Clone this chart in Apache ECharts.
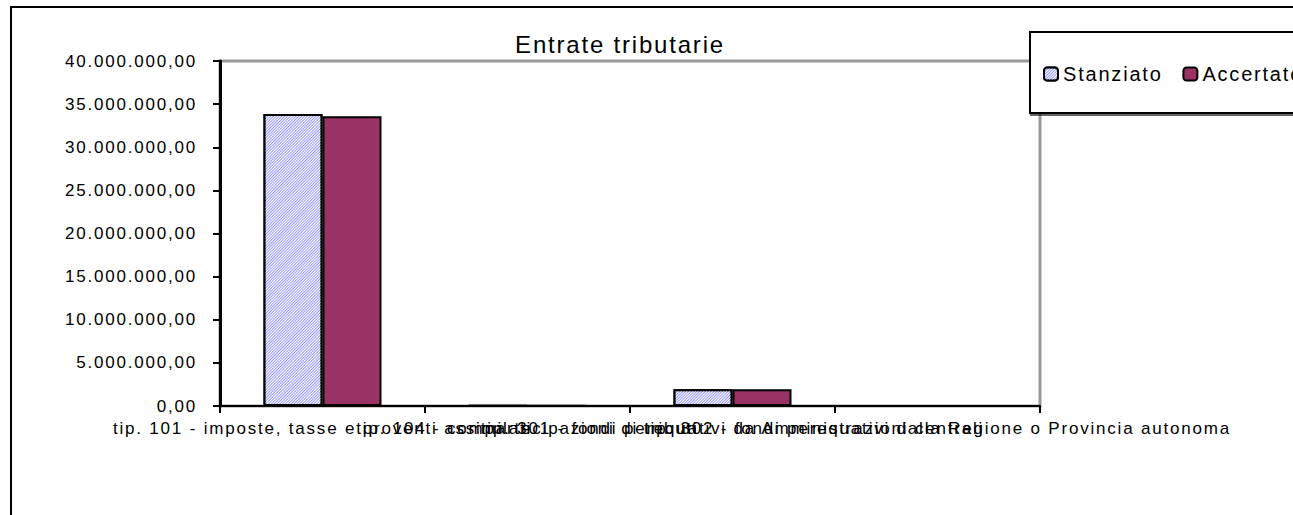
<!DOCTYPE html>
<html>
<head>
<meta charset="utf-8">
<script src="https://cdn.jsdelivr.net/npm/echarts@6/dist/echarts.min.js"></script>
<style>
  html, body { margin: 0; padding: 0; background: #fff; }
  #c { width: 1293px; height: 515px; }
  #c text { letter-spacing: 1.8px; }
</style>
</head>
<body>
<div id="c"></div>
<script>
// ---- data ----
const chartTitle = 'Entrate tributarie';
const categories = [
  'tip. 101 - imposte, tasse e proventi assimilati',
  'tip. 104 - compartecipazioni di tributi',
  'tip. 301 - fondi perequativi da Amministrazioni centrali',
  'tip. 302 - fondi perequativi dalla Regione o Provincia autonoma'
];
const seriesNames = ['Stanziato', 'Accertato'];
const stanziato = [33850000, 40000, 1950000, 0];
const accertato = [33600000, 35000, 1930000, 0];
const yMin = 0, yMax = 40000000, yStep = 5000000;

function itFormat(v) {
  const parts = Math.round(v).toString().replace(/\B(?=(\d{3})+(?!\d))/g, '.');
  return parts + ',00';
}

const FONT = '"Liberation Sans", Arial, sans-serif';
const chart = echarts.init(document.getElementById('c'), null, { renderer: 'svg' });
chart.setOption({
  backgroundColor: '#ffffff',
  animation: false,
  graphic: [
    {
      type: 'rect',
      z: -10,
      shape: { x: 11, y: 7, width: 1400, height: 600 },
      style: { fill: 'none', stroke: '#000', lineWidth: 2 }
    },
    {
      type: 'rect',
      z: 5,
      shape: { x: 1030, y: 32, width: 400, height: 81 },
      style: { fill: '#fff', stroke: '#000', lineWidth: 2, shadowColor: 'rgba(0,0,0,0.6)', shadowOffsetX: 1, shadowOffsetY: 2, shadowBlur: 0 }
    }
  ],
  title: {
    text: chartTitle,
    left: 615, textAlign: 'center',
    top: 27,
    textStyle: { fontFamily: FONT, fontSize: 24, fontWeight: 'normal', color: '#000' }
  },
  legend: {
    data: seriesNames,
    orient: 'horizontal',
    left: 1043, top: 64,
    padding: 0,
    itemWidth: 14, itemHeight: 13,
    itemGap: 36,
    z: 10,
    textStyle: { fontFamily: FONT, fontSize: 20, color: '#000' },
    itemStyle: { borderColor: '#000', borderWidth: 2 }
  },
  grid: {
    left: 220, right: 253, top: 61, bottom: 109,
    show: true, borderColor: '#999999', borderWidth: 3, backgroundColor: '#fff'
  },
  xAxis: {
    type: 'category',
    data: categories,
    axisLine: { lineStyle: { color: '#000', width: 2 } },
    axisTick: { show: true, length: 7, lineStyle: { color: '#000', width: 2 } },
    axisLabel: { interval: 0, margin: 14, color: '#000', fontFamily: FONT, fontSize: 17, hideOverlap: false },
    splitLine: { show: false }
  },
  yAxis: {
    type: 'value',
    min: yMin, max: yMax, interval: yStep,
    axisLine: { show: true, lineStyle: { color: '#000', width: 3 } },
    axisTick: { show: true, length: 7, lineStyle: { color: '#000', width: 2 } },
    axisLabel: { margin: 23, color: '#000', fontFamily: FONT, fontSize: 17, formatter: itFormat },
    splitLine: { show: false }
  },
  series: [
    {
      name: seriesNames[0], type: 'bar', data: stanziato,
      barWidth: 59, barGap: '0%',
      itemStyle: {
        color: '#9999ff', borderColor: '#000', borderWidth: 2,
        decal: {
          symbol: 'rect', symbolSize: 1,
          dashArrayX: [1, 0], dashArrayY: [1, 1],
          rotation: -Math.PI / 4, color: '#ffffff'
        }
      }
    },
    {
      name: seriesNames[1], type: 'bar', data: accertato,
      barWidth: 59,
      itemStyle: { color: '#993366', borderColor: '#000', borderWidth: 2 }
    }
  ]
});
</script>
</body>
</html>
